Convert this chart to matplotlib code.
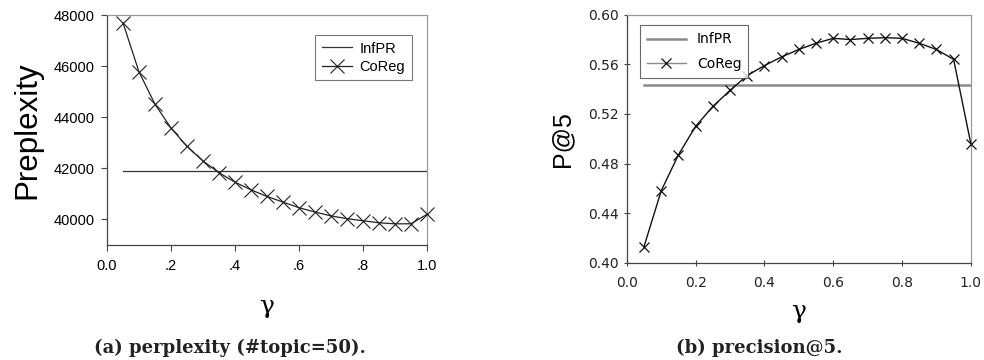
import numpy as np
import matplotlib.pyplot as plt

gamma = np.round(np.arange(1, 21) * 0.05, 2)

perp_coreg = [47700, 45780, 44510, 43580, 42860, 42290, 41830, 41460, 41160, 40900,
              40680, 40460, 40290, 40140, 40030, 39950, 39870, 39830, 39830, 40200]
perp_infpr = 41910

p5_coreg = [0.413, 0.458, 0.487, 0.510, 0.526, 0.539, 0.551, 0.559, 0.566, 0.572,
            0.577, 0.581, 0.580, 0.581, 0.5815, 0.581, 0.577, 0.572, 0.564, 0.496]
p5_infpr = 0.543

left_xticks = [0.0, 0.2, 0.4, 0.6, 0.8, 1.0]
left_xlabels = ["0.0", ".2", ".4", ".6", ".8", "1.0"]
left_yticks = [40000, 42000, 44000, 46000, 48000]
right_xticks = [0.0, 0.2, 0.4, 0.6, 0.8, 1.0]
right_xlabels = ["0.0", "0.2", "0.4", "0.6", "0.8", "1.0"]
right_yticks = [0.40, 0.44, 0.48, 0.52, 0.56, 0.60]

plt.rcParams["font.family"] = ["Liberation Sans", "DejaVu Sans"]

fig = plt.figure(figsize=(9.84, 3.6), dpi=100, facecolor="white")
ax1 = fig.add_axes([0.1087, 0.3194, 0.3252, 0.6389])
ax2 = fig.add_axes([0.637, 0.2703, 0.3496, 0.6887])

# left panel: perplexity
ax1.plot([gamma[0], gamma[-1]], [perp_infpr, perp_infpr], color="#333333", lw=0.9,
         label="InfPR", zorder=2)
ax1.plot(gamma, perp_coreg, color="#222222", lw=0.9, marker="x", ms=10, mew=0.8,
         label="CoReg", zorder=3, clip_on=False)
ax1.set_xlim(0, 1.0)
ax1.set_ylim(39000, 48000)
ax1.set_xticks(left_xticks, left_xlabels)
ax1.set_yticks(left_yticks, [str(v) for v in left_yticks])
ax1.tick_params(axis="both", labelsize=10.5, length=4, width=0.8, color="#444444")
ax1.tick_params(axis="x", pad=6)
ax1.tick_params(axis="y", pad=5)
ax1.set_ylabel("Preplexity", fontsize=22.5, labelpad=8)
ax1.set_xlabel("γ", fontsize=18, family="DejaVu Serif", labelpad=16)
leg1 = ax1.legend(loc="upper right", bbox_to_anchor=(0.975, 0.945), fontsize=10.5,
                  frameon=True, fancybox=False, edgecolor="#555555",
                  handlelength=2.1, handletextpad=0.5, borderpad=0.45,
                  labelspacing=0.3)
leg1.get_frame().set_linewidth(0.8)

# right panel: precision@5
ax2.plot([gamma[0], gamma[-1]], [p5_infpr, p5_infpr], color="#8a8a8a", lw=1.8,
         label="InfPR", zorder=2)
ax2.plot(gamma, p5_coreg, color="#111111", lw=1.0, marker="x", ms=6.5, mew=0.9,
         label="CoReg", zorder=3, clip_on=False)
ax2.set_xlim(0, 1.0)
ax2.set_ylim(0.40, 0.60)
ax2.set_xticks(right_xticks, right_xlabels)
ax2.set_yticks(right_yticks, [f"{v:.2f}" for v in right_yticks])
ax2.tick_params(axis="both", labelsize=10, length=5, width=0.8, color="#444444",
                direction="inout")
for lab in ax2.get_xticklabels() + ax2.get_yticklabels():
    lab.set_family("DejaVu Sans")
    lab.set_color("#222222")
ax2.tick_params(axis="x", pad=7)
ax2.tick_params(axis="y", pad=3)
ax2.set_ylabel("P@5", fontsize=18, labelpad=10)
ax2.set_xlabel("γ", fontsize=18, family="DejaVu Serif", labelpad=7)
leg2 = ax2.legend(loc="upper left", bbox_to_anchor=(0.018, 0.985), fontsize=10,
                  frameon=True, fancybox=False, edgecolor="#444444",
                  handlelength=2.8, handletextpad=0.8, borderpad=0.5,
                  labelspacing=0.75)
leg2.get_frame().set_linewidth(0.8)
leg2.get_lines()[1].set_color("#8a8a8a")
leg2.get_lines()[1].set_markeredgecolor("#111111")
for t in leg2.get_texts():
    t.set_family("DejaVu Sans")

for ax in (ax1, ax2):
    for s in ("top", "right"):
        ax.spines[s].set_color("#999999")
    for s in ("left", "bottom"):
        ax.spines[s].set_color("#444444")
    for s in ax.spines.values():
        s.set_linewidth(0.9)

fig.text(0.234, 0.035, "(a) perplexity (#topic=50).", ha="center", va="center",
         fontsize=13, family="DejaVu Serif", weight="bold", color="#222222")
fig.text(0.772, 0.033, "(b) precision@5.", ha="center", va="center",
         fontsize=13, family="DejaVu Serif", weight="bold", color="#222222")

fig.savefig("out.png", dpi=100, facecolor="white")
